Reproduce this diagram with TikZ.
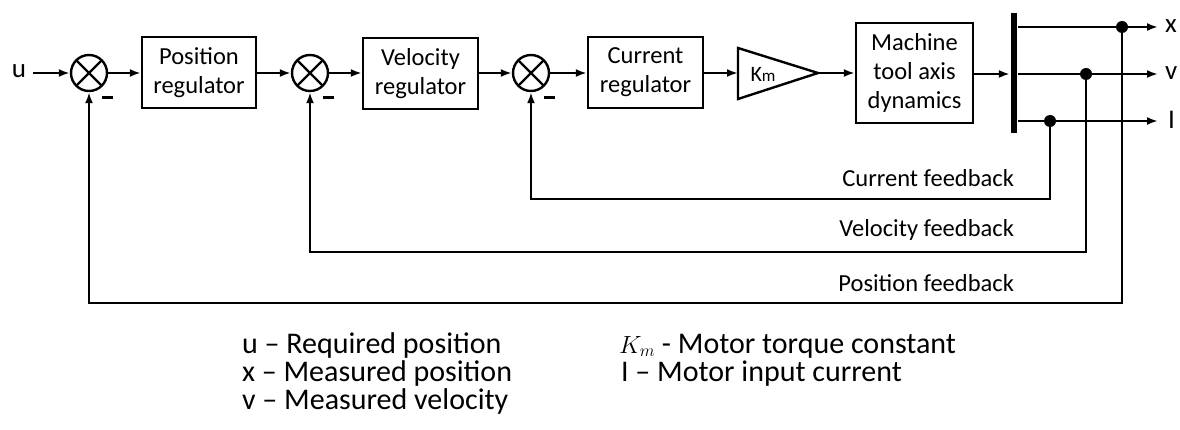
\documentclass[tikz,border=0pt]{standalone}
\usepackage{fontspec}
\setmainfont{Carlito}
\usetikzlibrary{arrows.meta}
\begin{document}
\begin{tikzpicture}[x=1pt,y=-1pt,
  line width=2.2pt,
  arr/.style={-{Latex[length=11pt,width=8pt]}},
  blk/.style={draw,line width=2.4pt,align=center,font=\fontsize{24.5}{29}\selectfont,inner sep=0pt},
  sumc/.style={draw,circle,minimum size=36pt,inner sep=0pt,line width=2.4pt,
    path picture={\draw[line width=2.2pt] (path picture bounding box.north west)--(path picture bounding box.south east)
      (path picture bounding box.north east)--(path picture bounding box.south west);}},
  dotc/.style={circle,fill,minimum size=12pt,inner sep=0pt},
  minus/.style={fill,minimum width=11pt,minimum height=3pt,inner sep=0pt},
  sig/.style={font=\fontsize{27}{27}\selectfont,inner sep=0pt},
  fbl/.style={font=\fontsize{24.5}{24.5}\selectfont,anchor=east,inner sep=0pt},
  leg/.style={font=\fontsize{30}{30}\selectfont,anchor=base west,inner sep=0pt}]
\useasboundingbox (0,0) rectangle (1180,430);
% input
\node[sig] (u) at (19,71) {u};
\node[sumc] (s1) at (89,73) {};
\node[minus] (m1) at (107,98) {};
\node[blk,minimum width=114pt,minimum height=71pt] (pos) at (199,72.5) {Position\\regulator};
\node[sumc] (s2) at (310,73) {};
\node[minus] (m2) at (328,98) {};
\node[blk,minimum width=115pt,minimum height=71pt] (vel) at (420.5,73.5) {Velocity\\regulator};
\node[sumc] (s3) at (531,73) {};
\node[minus] (m3) at (549,98) {};
\node[blk,minimum width=115pt,minimum height=71pt] (cur) at (645.5,72.5) {Current\\regulator};
% gain triangle
\coordinate (kmin) at (738,73);
\coordinate (kmout) at (818,73);
\draw[line width=2.4pt,line join=miter] (738,48) -- (kmout) -- (738,99) -- cycle;
\node[inner sep=0pt,font=\fontsize{22}{22}\selectfont] (kml) at (763,74) {K{\fontsize{17}{17}\selectfont m}};
\node[blk,minimum width=117pt,minimum height=100pt] (mach) at (914.5,73) {Machine\\tool axis\\dynamics};
\node[fill,minimum width=6pt,minimum height=120pt,inner sep=0pt] (bar) at (1014,73) {};
% outputs
\coordinate (xe) at (1158,27);
\coordinate (ve) at (1158,74);
\coordinate (ie) at (1158,121);
\node[sig,anchor=west] (xl) at (1164,26) {x};
\node[sig,anchor=west] (vl) at (1164,73) {v};
\node[sig,anchor=west] (il) at (1167,120) {I};
% forward path
\draw[arr] (u.east) ++(6,2) -- (s1.west);
\draw[arr] (s1.east) -- (pos.west |- s1);
\draw[arr] (pos.east |- s2) -- (s2.west);
\draw[arr] (s2.east) -- (vel.west |- s2);
\draw[arr] (vel.east |- s3) -- (s3.west);
\draw[arr] (s3.east) -- (cur.west |- s3);
\draw[arr] (cur.east |- kmin) -- (kmin);
\draw[arr] (kmout) -- (mach.west |- kmout);
\draw[arr] (mach.east |- ve) -- (bar.west |- ve);
\draw[arr] (bar.east |- xe) -- (xe);
\draw[arr] (bar.east |- ve) -- (ve);
\draw[arr] (bar.east |- ie) -- (ie);
% dots
\node[dotc] (dx) at (1122,27) {};
\node[dotc] (dv) at (1086,74) {};
\node[dotc] (di) at (1050,121) {};
% feedback
\coordinate (fc) at (0,199);
\coordinate (fv) at (0,252);
\coordinate (fp) at (0,303);
\draw[arr] (di.center) -- (di |- fc) -- (s3 |- fc) -- (s3.south);
\draw[arr] (dv.center) -- (dv |- fv) -- (s2 |- fv) -- (s2.south);
\draw[arr] (dx.center) -- (dx |- fp) -- (s1 |- fp) -- (s1.south);
\node[fbl] (lc) at (1015,178) {Current feedback};
\node[fbl] (lv) at (1015,230) {Velocity feedback};
\node[fbl] (lp) at (1015,283) {Position feedback};
% legend
\node[leg] (g1) at (241,353) {u – Required position};
\node[leg] (g2) at (241,381) {x – Measured position};
\node[leg] (g3) at (241,409) {v – Measured velocity};
\node[leg] (g4) at (618,353) {{\fontsize{27}{27}\selectfont$K_m$} - Motor torque constant};
\node[leg] (g5) at (620,381) {I – Motor input current};
\end{tikzpicture}
\end{document}
